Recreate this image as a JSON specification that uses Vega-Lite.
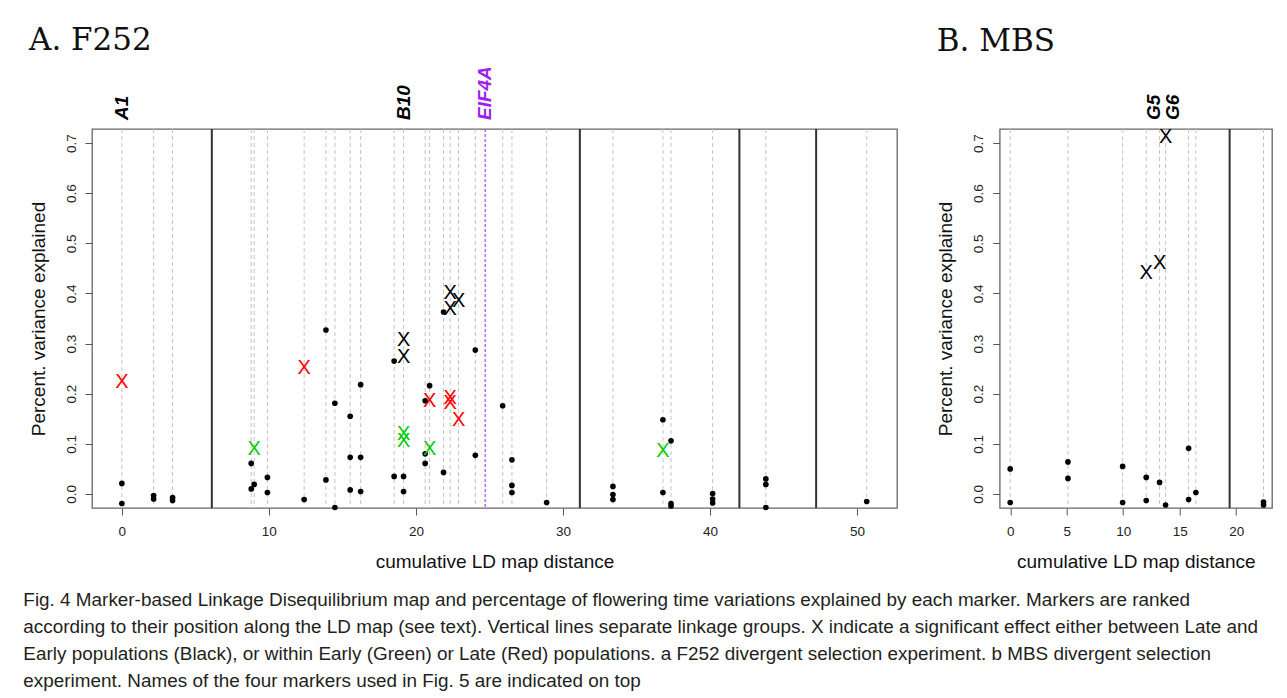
{
  "$schema": "https://vega.github.io/schema/vega-lite/v6.json",
  "background": "white",
  "padding": {"left": 23, "top": 24, "right": 0, "bottom": 0},
  "title": {
    "text": [
      "Fig. 4 Marker-based Linkage Disequilibrium map and percentage of flowering time variations explained by each marker. Markers are ranked",
      "according to their position along the LD map (see text). Vertical lines separate linkage groups. X indicate a significant effect either between Late and",
      "Early populations (Black), or within Early (Green) or Late (Red) populations. a F252 divergent selection experiment. b MBS divergent selection",
      "experiment. Names of the four markers used in Fig. 5 are indicated on top"
    ],
    "orient": "bottom",
    "anchor": "start",
    "frame": "bounds",
    "font": "Liberation Sans",
    "fontSize": 18.9,
    "fontWeight": "normal",
    "color": "#231f20",
    "lineHeight": 27,
    "baseline": "top",
    "offset": 19,
    "dx": -5
  },
  "datasets": {
    "markersA": [
      {"x": 0}, {"x": 2.16}, {"x": 3.45}, {"x": 8.8}, {"x": 9.0}, {"x": 9.9}, {"x": 12.4}, {"x": 13.88}, {"x": 14.49}, {"x": 15.53}, {"x": 16.24}, {"x": 18.52}, {"x": 19.16}, {"x": 20.63}, {"x": 20.93}, {"x": 21.88}, {"x": 22.33}, {"x": 22.9}, {"x": 24.04}, {"x": 25.9}, {"x": 26.53}, {"x": 28.89}, {"x": 33.4}, {"x": 36.8}, {"x": 37.35}, {"x": 40.18}, {"x": 43.8}, {"x": 50.66}
    ],
    "eif4a": [{"x": 24.71, "label": "EIF4A"}],
    "groupsA": [{"x": 6.12}, {"x": 31.15}, {"x": 42.0}, {"x": 47.22}],
    "dotsA": [
      {"x": 0, "y": 0.021}, {"x": 0, "y": -0.019},
      {"x": 2.16, "y": -0.003}, {"x": 2.16, "y": -0.01},
      {"x": 3.45, "y": -0.007}, {"x": 3.45, "y": -0.013},
      {"x": 8.8, "y": 0.061}, {"x": 8.8, "y": 0.01},
      {"x": 9.0, "y": 0.019},
      {"x": 9.9, "y": 0.033}, {"x": 9.9, "y": 0.003},
      {"x": 12.4, "y": -0.011},
      {"x": 13.88, "y": 0.327}, {"x": 13.88, "y": 0.028},
      {"x": 14.49, "y": 0.181}, {"x": 14.49, "y": -0.027},
      {"x": 15.53, "y": 0.155}, {"x": 15.53, "y": 0.073}, {"x": 15.53, "y": 0.008},
      {"x": 16.24, "y": 0.218}, {"x": 16.24, "y": 0.073}, {"x": 16.24, "y": 0.005},
      {"x": 18.52, "y": 0.265}, {"x": 18.52, "y": 0.035},
      {"x": 19.16, "y": 0.035}, {"x": 19.16, "y": 0.005},
      {"x": 20.63, "y": 0.186}, {"x": 20.63, "y": 0.08}, {"x": 20.63, "y": 0.061},
      {"x": 20.93, "y": 0.216},
      {"x": 21.88, "y": 0.363}, {"x": 21.88, "y": 0.043},
      {"x": 24.04, "y": 0.287}, {"x": 24.04, "y": 0.077},
      {"x": 25.9, "y": 0.176},
      {"x": 26.53, "y": 0.068}, {"x": 26.53, "y": 0.017}, {"x": 26.53, "y": 0.003},
      {"x": 28.89, "y": -0.017},
      {"x": 33.4, "y": 0.015}, {"x": 33.4, "y": -0.001}, {"x": 33.4, "y": -0.011},
      {"x": 36.8, "y": 0.148}, {"x": 36.8, "y": 0.003},
      {"x": 37.35, "y": 0.106}, {"x": 37.35, "y": -0.019}, {"x": 37.35, "y": -0.024},
      {"x": 40.18, "y": 0.001}, {"x": 40.18, "y": -0.01}, {"x": 40.18, "y": -0.018},
      {"x": 43.8, "y": 0.03}, {"x": 43.8, "y": 0.019}, {"x": 43.8, "y": -0.027},
      {"x": 50.66, "y": -0.015}
    ],
    "sigA": [
      {"x": 0, "y": 0.224, "effect": "Late"},
      {"x": 9.0, "y": 0.09, "effect": "Early"},
      {"x": 12.4, "y": 0.251, "effect": "Late"},
      {"x": 19.16, "y": 0.307, "effect": "Between"},
      {"x": 19.16, "y": 0.274, "effect": "Between"},
      {"x": 19.16, "y": 0.12, "effect": "Early"},
      {"x": 19.16, "y": 0.106, "effect": "Early"},
      {"x": 20.93, "y": 0.186, "effect": "Late"},
      {"x": 20.93, "y": 0.09, "effect": "Early"},
      {"x": 22.33, "y": 0.4, "effect": "Between"},
      {"x": 22.33, "y": 0.368, "effect": "Between"},
      {"x": 22.9, "y": 0.384, "effect": "Between"},
      {"x": 22.33, "y": 0.191, "effect": "Late"},
      {"x": 22.33, "y": 0.181, "effect": "Late"},
      {"x": 22.9, "y": 0.148, "effect": "Late"},
      {"x": 36.8, "y": 0.086, "effect": "Early"}
    ],
    "labelsA": [{"x": 0, "label": "A1"}, {"x": 19.16, "label": "B10"}],
    "markersB": [
      {"x": 0}, {"x": 5.11}, {"x": 9.95}, {"x": 12.04}, {"x": 13.22}, {"x": 13.75}, {"x": 15.79}, {"x": 16.43}, {"x": 22.42}
    ],
    "groupsB": [{"x": 19.42}],
    "dotsB": [
      {"x": 0, "y": 0.05}, {"x": 0, "y": -0.017},
      {"x": 5.11, "y": 0.064}, {"x": 5.11, "y": 0.031},
      {"x": 9.95, "y": 0.055}, {"x": 9.95, "y": -0.017},
      {"x": 12.04, "y": 0.033}, {"x": 12.04, "y": -0.013},
      {"x": 13.22, "y": 0.023},
      {"x": 13.75, "y": -0.022},
      {"x": 15.79, "y": 0.091}, {"x": 15.79, "y": -0.011},
      {"x": 16.43, "y": 0.003},
      {"x": 22.42, "y": -0.016}, {"x": 22.42, "y": -0.022}
    ],
    "sigB": [
      {"x": 12.04, "y": 0.44, "effect": "Between"},
      {"x": 13.22, "y": 0.46, "effect": "Between"},
      {"x": 13.75, "y": 0.713, "effect": "Between"}
    ],
    "labelsB": [{"x": 12.7, "label": "G5"}, {"x": 14.38, "label": "G6"}]
  },
  "hconcat": [
    {
      "width": 805,
      "height": 379,
      "title": {"text": "A. F252", "anchor": "start", "frame": "bounds", "font": "DejaVu Serif", "fontSize": 31, "fontWeight": "normal", "baseline": "alphabetic", "offset": -15, "color": "#111"},
      "encoding": {
        "x": {"field": "x", "type": "quantitative", "title": "cumulative LD map distance",
              "scale": {"domain": [-2.03, 52.72], "nice": false, "zero": false},
              "axis": {"values": [0, 10, 20, 30, 40, 50]}}
      },
      "layer": [
        {"data": {"name": "markersA"}, "mark": {"type": "rule", "color": "#c4c4c4", "strokeDash": [4, 3], "strokeWidth": 1}, "encoding": {}},
        {"data": {"name": "eif4a"}, "mark": {"type": "rule", "color": "#A020F0", "strokeDash": [3, 2], "strokeWidth": 1}, "encoding": {}},
        {"data": {"name": "groupsA"}, "mark": {"type": "rule", "color": "#333333", "strokeWidth": 2}, "encoding": {}},
        {"data": {"name": "dotsA"}, "mark": {"type": "point", "filled": true, "color": "black", "size": 32, "opacity": 1},
         "encoding": {"y": {"field": "y", "type": "quantitative", "title": "Percent. variance explained",
                            "scale": {"domain": [-0.028, 0.728], "nice": false, "zero": false},
                            "axis": {"values": [0, 0.1, 0.2, 0.3, 0.4, 0.5, 0.6, 0.7], "format": ".1f"}}}},
        {"data": {"name": "sigA"}, "mark": {"type": "text", "text": "X", "font": "Liberation Sans", "fontSize": 20, "align": "center", "baseline": "middle"},
         "encoding": {"y": {"field": "y", "type": "quantitative", "title": "Percent. variance explained"},
                      "color": {"field": "effect", "type": "nominal", "scale": {"domain": ["Between", "Early", "Late"], "range": ["black", "#00CC00", "#FF0000"]}, "legend": null}}},
        {"data": {"name": "labelsA"}, "mark": {"type": "text", "angle": 270, "align": "left", "baseline": "middle", "dx": 9, "font": "Liberation Sans", "fontSize": 19, "fontWeight": "bold", "fontStyle": "italic", "color": "black"},
         "encoding": {"y": {"datum": 0.728}, "text": {"field": "label"}}},
        {"data": {"name": "eif4a"}, "mark": {"type": "text", "angle": 270, "align": "left", "baseline": "middle", "dx": 9, "font": "Liberation Sans", "fontSize": 19, "fontWeight": "bold", "fontStyle": "italic", "color": "#A020F0"},
         "encoding": {"y": {"datum": 0.728}, "text": {"field": "label"}}}
      ]
    },
    {
      "width": 272.3,
      "height": 379,
      "title": {"text": "B. MBS", "anchor": "start", "frame": "bounds", "font": "DejaVu Serif", "fontSize": 31, "fontWeight": "normal", "baseline": "alphabetic", "offset": 13, "color": "#111"},
      "encoding": {
        "x": {"field": "x", "type": "quantitative", "title": "cumulative LD map distance",
              "scale": {"domain": [-0.93, 23.17], "nice": false, "zero": false},
              "axis": {"values": [0, 5, 10, 15, 20]}}
      },
      "layer": [
        {"data": {"name": "markersB"}, "mark": {"type": "rule", "color": "#c4c4c4", "strokeDash": [4, 3], "strokeWidth": 1}, "encoding": {}},
        {"data": {"name": "groupsB"}, "mark": {"type": "rule", "color": "#333333", "strokeWidth": 2}, "encoding": {}},
        {"data": {"name": "dotsB"}, "mark": {"type": "point", "filled": true, "color": "black", "size": 32, "opacity": 1},
         "encoding": {"y": {"field": "y", "type": "quantitative", "title": "Percent. variance explained",
                            "scale": {"domain": [-0.028, 0.728], "nice": false, "zero": false},
                            "axis": {"values": [0, 0.1, 0.2, 0.3, 0.4, 0.5, 0.6, 0.7], "format": ".1f"}}}},
        {"data": {"name": "sigB"}, "mark": {"type": "text", "text": "X", "font": "Liberation Sans", "fontSize": 20, "align": "center", "baseline": "middle", "color": "black"},
         "encoding": {"y": {"field": "y", "type": "quantitative", "title": "Percent. variance explained"}}},
        {"data": {"name": "labelsB"}, "mark": {"type": "text", "angle": 270, "align": "left", "baseline": "middle", "dx": 9, "font": "Liberation Sans", "fontSize": 19, "fontWeight": "bold", "fontStyle": "italic", "color": "black"},
         "encoding": {"y": {"datum": 0.728}, "text": {"field": "label"}}}
      ]
    }
  ],
  "spacing": 102.7,
  "bounds": "flush",
  "config": {
    "view": {"stroke": "#666666", "strokeWidth": 1.3},
    "axis": {"domain": false, "grid": false, "ticks": true, "tickColor": "#555555", "tickSize": 7, "tickWidth": 1,
             "labelFont": "Liberation Sans", "labelFontSize": 13.5, "labelColor": "#222222",
             "titleFont": "Liberation Sans", "titleFontSize": 19, "titleFontWeight": "normal", "titleColor": "#111111"},
    "axisX": {"labelPadding": 9, "titlePadding": 15, "labelFlush": false},
    "axisY": {"labelAngle": 270, "labelAlign": "center", "labelBaseline": "bottom", "labelPadding": 7, "titlePadding": 16}
  }
}
